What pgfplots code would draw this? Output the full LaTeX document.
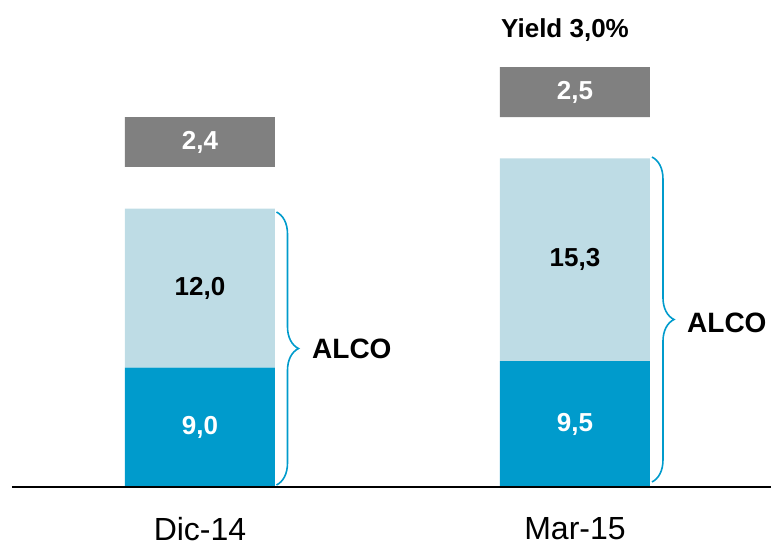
\documentclass[border=0pt]{standalone}
\usepackage{pgfplots}
\usepackage{pgfplotstable}
\pgfplotsset{compat=1.18}
\usepackage{fontspec}
\setmainfont{Liberation Sans}
\usetikzlibrary{decorations.pathreplacing}

\definecolor{alcodark}{RGB}{0,155,204}
\definecolor{alcolight}{RGB}{190,220,229}
\definecolor{boxgray}{RGB}{128,128,128}

\pgfplotsset{/pgf/number format/assume math mode=true}

% box = fixed height of the grey label box, gap = white space under it
\pgfplotstableread{
x dark light gap box boxval
0 9.0 12.0 3.15 3.77 2.4
1 9.5 15.3 3.12 3.77 2.5
}\data

\begin{document}
\begin{tikzpicture}
\begin{axis}[
  scale only axis,
  width=759pt, height=487pt,
  xmin=-0.5013, xmax=1.5227,
  ymin=0, ymax=36.75,
  ybar stacked, bar width=150pt,
  axis x line*=bottom, axis y line=none,
  axis line style={black, line width=2pt},
  axis on top,
  xtick={0,1}, xticklabels={Dic-14,Mar-15},
  xtick style={draw=none},
  xticklabel style={font=\fontsize{32}{32}\selectfont, inner sep=0pt, yshift=-30pt},
  clip=false,
  lbl/.style={point meta=explicit,
    nodes near coords={\pgfmathprintnumber[fixed,fixed zerofill,precision=1,use comma]{\pgfplotspointmeta}},
    every node near coord/.append style={anchor=center, font=\bfseries\fontsize{26}{26}\selectfont}},
]
\addplot[fill=alcodark, draw=none, lbl, every node near coord/.append style={text=white}]
  table[x=x, y=dark, meta=dark] {\data};
\addplot[fill=alcolight, draw=none, lbl, every node near coord/.append style={text=black}]
  table[x=x, y=light, meta=light] {\data};
\addplot[fill=none, draw=none] table[x=x, y=gap] {\data};
\addplot[fill=boxgray, draw=none, lbl, every node near coord/.append style={text=white}]
  table[x=x, y=box, meta=boxval] {\data};

\draw[alcodark, line width=1.6pt, decorate, decoration={brace, amplitude=22pt}]
  (axis cs:0.204,20.75) -- (axis cs:0.204,0.15);
\draw[alcodark, line width=1.6pt, decorate, decoration={brace, amplitude=22pt}]
  (axis cs:1.2053,24.9) -- (axis cs:1.2053,0.38);
\node[anchor=base west, inner sep=0pt, font=\bfseries\fontsize{28}{28}\selectfont]
  at (axis cs:0.2987,9.71) {ALCO};
\node[anchor=base west, inner sep=0pt, font=\bfseries\fontsize{28}{28}\selectfont]
  at (axis cs:1.2987,11.67) {ALCO};
\node[anchor=base west, inner sep=0pt, font=\bfseries\fontsize{26}{26}\selectfont]
  at (axis cs:0.8027,33.94) {Yield 3,0\%};
\end{axis}
\pgfresetboundingbox
\path ([shift={(-12pt,-56pt)}]current axis.south west) rectangle (current axis.north east);
\end{tikzpicture}
\end{document}
